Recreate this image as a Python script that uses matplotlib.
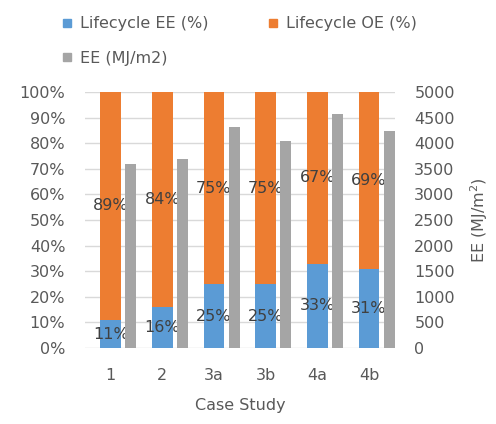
import matplotlib.pyplot as plt
from matplotlib.patches import Patch

plt.rcParams['font.family'] = ['DejaVu Sans']

# case studies and their energy shares
cases = ["1", "2", "3a", "3b", "4a", "4b"]
ee_pct = [11, 16, 25, 25, 33, 31]
oe_pct = [89, 84, 75, 75, 67, 69]
ee_mj = [3600, 3700, 4320, 4040, 4580, 4230]

blue = "#5B9BD5"
orange = "#ED7D31"
grey = "#A5A5A5"
txt = "#595959"
fs = 11.5

fig = plt.figure(figsize=(4.96, 4.24), dpi=100)
ax = fig.add_axes([0.171, 0.179, 0.625, 0.604])
ax2 = ax.twinx()

x = list(range(len(cases)))
ee = [v / 100 for v in ee_pct]
oe = [v / 100 for v in oe_pct]

b1 = ax.bar(x, ee, width=0.4, color=blue, zorder=3)
b2 = ax.bar(x, oe, width=0.4, bottom=ee, color=orange, zorder=3)
for rects, vals in ((b1, ee_pct), (b2, oe_pct)):
    for r, v in zip(rects, vals):
        ax.text(r.get_x() + r.get_width() / 2, r.get_y() + r.get_height() / 2,
                f"{v}%", ha="center", va="center", fontsize=fs, color="#404040", zorder=5)

ax2.bar([i + 0.39 for i in x], ee_mj, width=0.21, color=grey, zorder=3)

ax.set_xlim(-0.5, len(cases) - 0.5)
ax.set_ylim(0, 1)
ax.set_yticks([i / 10 for i in range(11)])
ax.set_yticklabels([f"{i * 10}%" for i in range(11)])
ax2.set_ylim(0, 5000)
ax2.set_yticks(range(0, 5001, 500))
ax.set_xticks(x)
ax.set_xticklabels(cases)

ax.grid(axis="y", color="#D9D9D9", lw=1, zorder=0)
ax.set_axisbelow(True)
for a in (ax, ax2):
    for s in a.spines.values():
        s.set_visible(False)
    a.tick_params(length=0, labelsize=fs, colors=txt)
ax.tick_params(axis="y", pad=14)
ax.tick_params(axis="x", pad=14)
ax2.tick_params(axis="y", pad=14)

ax.set_xlabel("Case Study", fontsize=fs, color=txt, labelpad=11)
ax2.set_ylabel("EE (MJ/m$^2$)", fontsize=fs, color=txt, labelpad=10)

handles = [Patch(color=blue, label="Lifecycle EE (%)"),
           Patch(color=grey, label="EE (MJ/m2)"),
           Patch(color=orange, label="Lifecycle OE (%)")]
leg = fig.legend(handles=handles, ncol=2, loc="upper left", bbox_to_anchor=(0.099, 0.995),
                 frameon=False, fontsize=fs, handlelength=0.45, handleheight=0.45,
                 handletextpad=0.6, columnspacing=3.8, labelspacing=1.2)
for t in leg.get_texts():
    t.set_color(txt)

fig.savefig("out.png", dpi=100)
